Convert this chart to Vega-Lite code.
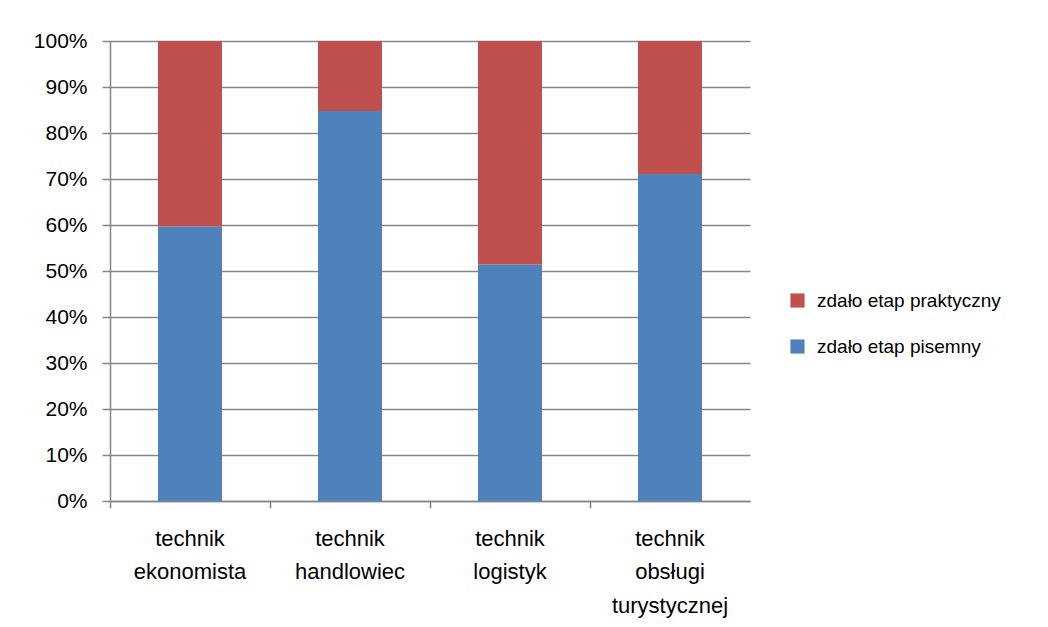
{
  "$schema": "https://vega.github.io/schema/vega-lite/v6.json",
  "width": 640,
  "height": 460,
  "autosize": {"type": "none"},
  "padding": {"left": 110, "top": 41, "right": 298, "bottom": 126},
  "background": "white",
  "config": {
    "view": {"stroke": null},
    "font": "Liberation Sans",
    "axis": {"labelFont": "Liberation Sans", "labelColor": "#000000"},
    "legend": {"labelFont": "Liberation Sans"}
  },
  "data": {
    "values": [
      {"zawod": "technik|ekonomista", "seria": "zdało etap pisemny", "wartosc": 59.7},
      {"zawod": "technik|ekonomista", "seria": "zdało etap praktyczny", "wartosc": 40.3},
      {"zawod": "technik|handlowiec", "seria": "zdało etap pisemny", "wartosc": 84.8},
      {"zawod": "technik|handlowiec", "seria": "zdało etap praktyczny", "wartosc": 15.2},
      {"zawod": "technik|logistyk", "seria": "zdało etap pisemny", "wartosc": 51.4},
      {"zawod": "technik|logistyk", "seria": "zdało etap praktyczny", "wartosc": 48.6},
      {"zawod": "technik|obsługi|turystycznej", "seria": "zdało etap pisemny", "wartosc": 71.1},
      {"zawod": "technik|obsługi|turystycznej", "seria": "zdało etap praktyczny", "wartosc": 28.9}
    ]
  },
  "mark": {"type": "bar", "width": {"band": 0.4}},
  "encoding": {
    "x": {
      "field": "zawod",
      "type": "nominal",
      "sort": null,
      "title": null,
      "scale": {"paddingInner": 0, "paddingOuter": 0},
      "axis": {
        "labelAngle": 0,
        "labelExpr": "split(datum.label, '|')",
        "labelFontSize": 22,
        "labelLineHeight": 33.5,
        "labelPadding": 20,
        "labelBaseline": "top",
        "bandPosition": 0,
        "ticks": true,
        "tickSize": 7,
        "tickColor": "#868686",
        "tickWidth": 1.5,
        "domainColor": "#868686",
        "domainWidth": 1.5,
        "grid": false
      }
    },
    "y": {
      "field": "wartosc",
      "type": "quantitative",
      "stack": "normalize",
      "title": null,
      "scale": {"domain": [0, 1]},
      "axis": {
        "format": ".0%",
        "values": [0, 0.1, 0.2, 0.3, 0.4, 0.5, 0.6, 0.7, 0.8, 0.9, 1],
        "labelFontSize": 21,
        "labelPadding": 15,
        "tickSize": 8,
        "tickColor": "#868686",
        "tickWidth": 1.5,
        "domainColor": "#868686",
        "domainWidth": 1.5,
        "gridColor": "#868686",
        "gridWidth": 1.5
      }
    },
    "color": {
      "field": "seria",
      "type": "nominal",
      "scale": {"domain": ["zdało etap praktyczny", "zdało etap pisemny"], "range": ["#C0504D", "#4F81BD"]},
      "legend": {
        "title": null,
        "orient": "none",
        "legendX": 678,
        "legendY": 250,
        "symbolType": "square",
        "symbolSize": 200,
        "labelFontSize": 19,
        "labelLimit": 400,
        "labelOffset": 10,
        "rowPadding": 26,
        "symbolStrokeWidth": 0
      }
    },
    "order": {"field": "seria", "sort": "ascending"}
  }
}
